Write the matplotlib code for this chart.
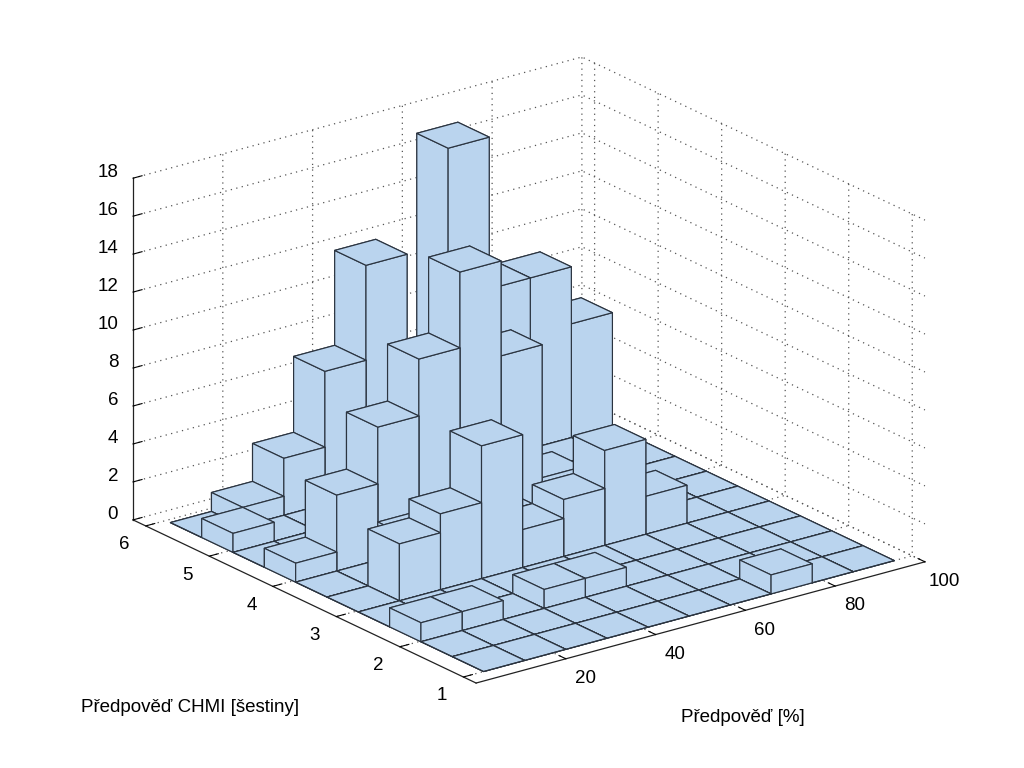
import numpy as np
import matplotlib
matplotlib.use('Agg')
import matplotlib.pyplot as plt

plt.rcParams['font.family'] = ['Liberation Sans', 'DejaVu Sans']

# bin edges of the histogram floor
x_start = 4.5
x_step = 9.15
y_start = 1.0
y_step = 0.493

# counts, one list per row (row 0 is the one along the front edge, column 0 is lowest %)
row0 = [0, 0, 0, 0, 0, 0, 0, 1, 0, 0]
row1 = [0, 0, 0, 0, 0, 0, 0, 0, 0, 0]
row2 = [1, 1, 0, 1, 1, 0, 0, 0, 0, 0]
row3 = [0, 0, 0, 0, 0, 0, 0, 0, 0, 0]
row4 = [0, 3, 4, 7, 2, 3, 5, 2, 0, 0]
row5 = [0, 0, 2, 2, 2, 0, 0, 0, 0, 0]
row6 = [1, 4, 7, 10, 14, 9, 2, 0, 0, 0]
row7 = [0, 0, 0, 0, 0, 0, 0, 0, 0, 0]
row8 = [1, 0, 0, 0, 0, 0, 0, 0, 0, 0]
row9 = [0, 1, 3, 7, 12, 5, 17, 9, 9, 6]
counts = [row0, row1, row2, row3, row4, row5, row6, row7, row8, row9]

x_ticks = [20, 40, 60, 80, 100]
y_ticks = [1, 2, 3, 4, 5, 6]
z_ticks = [0, 2, 4, 6, 8, 10, 12, 14, 16, 18]

BAR_COLOR = '#bad4ee'
EDGE_COLOR = '#2b3440'
FONT_SIZE = 13.5

fig = plt.figure(figsize=(10.24, 7.68), dpi=100)
ax = fig.add_axes([90.2 / 1024, -40.8 / 768, 854.5 / 1024, 854.5 / 768], projection='3d')
ax.set_proj_type('ortho')
ax.view_init(elev=21, azim=-127)
ax.set_box_aspect((562, 570, 366), zoom=1.0)
ax.computed_zorder = False

ax.set_xlim(0, 100, view_margin=0)
ax.set_ylim(0.8, 6.2, view_margin=0)
ax.set_zlim(0, 18, view_margin=0)

# back to front, so the nearer bars paint over the ones behind
order = 1
for j in range(9, -1, -1):
    for i in range(9, -1, -1):
        ax.bar3d(x_start + i * x_step, y_start + j * y_step, 0,
                 x_step, y_step, counts[j][i],
                 color=BAR_COLOR, edgecolor=EDGE_COLOR, linewidth=0.85,
                 shade=False, zorder=order)
        order += 1

ax.set_xticks(x_ticks)
ax.set_yticks(y_ticks)
ax.set_zticks(z_ticks)
ax.tick_params(axis='x', labelsize=FONT_SIZE, pad=10)
ax.tick_params(axis='y', labelsize=FONT_SIZE, pad=11)
ax.tick_params(axis='z', labelsize=FONT_SIZE, pad=-2)

plt.setp(ax.get_xticklabels(), ha='center', va='bottom')
plt.setp(ax.get_yticklabels(), ha='left', va='bottom')
plt.setp(ax.get_zticklabels(), ha='right', va='baseline')

for axis in (ax.xaxis, ax.yaxis, ax.zaxis):
    axis.set_pane_color((1, 1, 1, 0))
    axis.pane.set_edgecolor((1, 1, 1, 0))
    axis.line.set_color('#222222')
    axis.line.set_linewidth(0.9)
    axis._axinfo['grid'].update(color='#555555', linestyle=(0, (1, 3.5)), linewidth=0.9)
    axis._axinfo['tick'].update(inward_factor=0, outward_factor=0.25, linewidth={True: 0.8, False: 0.5})

fig.text(190 / 1024, 1 - 707 / 768, 'Předpověď CHMI [šestiny]', ha='center', va='center', fontsize=FONT_SIZE)
fig.text(743 / 1024, 1 - 717 / 768, 'Předpověď [%]', ha='center', va='center', fontsize=FONT_SIZE)

fig.savefig('out.png', dpi=100)
